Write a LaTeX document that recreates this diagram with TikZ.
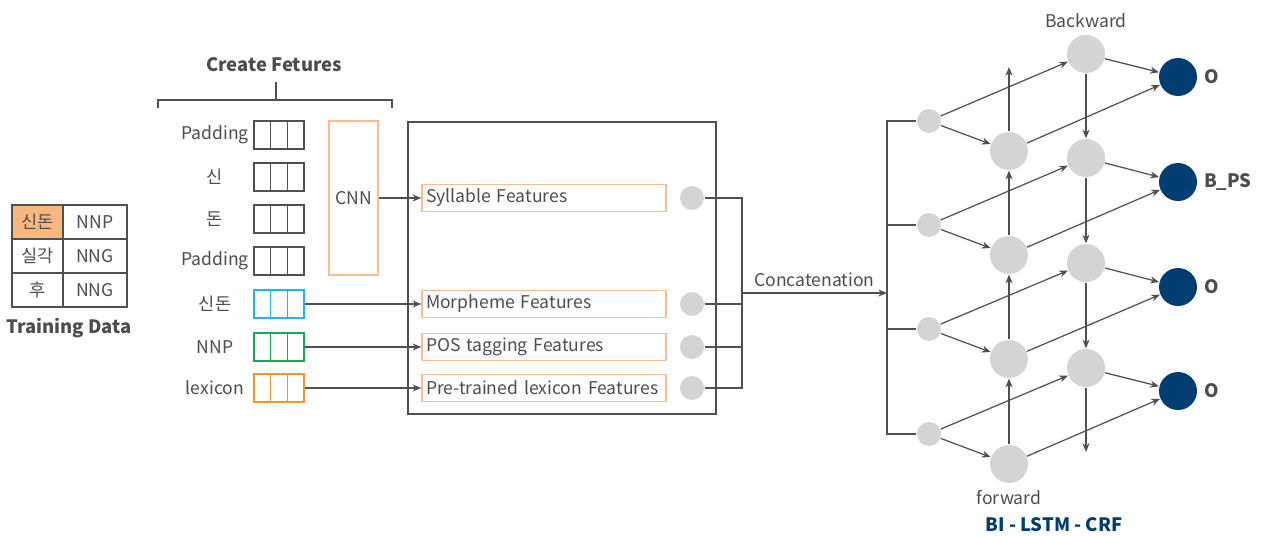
\documentclass[tikz,border=0pt]{standalone}
\usepackage{fontspec}
\setmainfont{Noto Sans CJK KR}
\usetikzlibrary{arrows.meta, positioning, calc}
\definecolor{textgray}{RGB}{77,77,77}
\definecolor{linegray}{RGB}{80,80,80}
\definecolor{dotgray}{RGB}{211,212,214}
\definecolor{featorange}{RGB}{249,190,140}
\definecolor{cellorange}{RGB}{247,183,127}
\definecolor{cellblue}{RGB}{30,180,240}
\definecolor{cellgreen}{RGB}{20,170,80}
\definecolor{lexorange}{RGB}{247,150,40}
\definecolor{crfblue}{RGB}{0,61,112}
\tikzset{
  boldlbl/.style={font=\fontsize{10.5}{13}\selectfont\bfseries},
  cellbox/.style={draw=#1, line width=0.8pt, minimum width=1cm, minimum height=0.56cm, inner sep=0pt,
    path picture={\draw[#1, line width=0.8pt]
      ([xshift=-0.1667cm]path picture bounding box.north) -- ([xshift=-0.1667cm]path picture bounding box.south)
      ([xshift=0.1667cm]path picture bounding box.north) -- ([xshift=0.1667cm]path picture bounding box.south);}},
  featbox/.style={draw=featorange, line width=0.8pt, text width=4.72cm, inner xsep=0.08cm, inner ysep=0pt, minimum height=0.54cm, align=left},
  tcell/.style={draw=linegray, line width=0.8pt, minimum height=0.68cm, inner sep=0pt},
  dot/.style={circle, fill=dotgray, minimum size=0.48cm, inner sep=0pt},
  unit/.style={circle, fill=dotgray, minimum size=0.76cm, inner sep=0pt},
  tag/.style={circle, fill=crfblue, minimum size=0.76cm, inner sep=0pt}
}

\begin{document}
\begin{tikzpicture}[x=0.02cm, y=-0.02cm, >={Stealth[length=5pt,width=4pt]},
    font=\fontsize{10}{12}\selectfont, line width=0.7pt, color=linegray, text=textgray]
    \useasboundingbox (0,0) rectangle (1262,535);

    % Training data
    \node[tcell, fill=cellorange, minimum width=1.02cm] (t11) at (37.5,222) {신돈};
    \node[tcell, minimum width=1.28cm] (t12) at (95,222) {NNP};
    \node[tcell, minimum width=1.02cm] (t21) at (37.5,256) {실각};
    \node[tcell, minimum width=1.28cm] (t22) at (95,256) {NNG};
    \node[tcell, minimum width=1.02cm] (t31) at (37.5,290) {후};
    \node[tcell, minimum width=1.28cm] (t32) at (95,290) {NNG};
    \node[boldlbl] (train) at (69,328) {Training Data};

    % Create features
    \node[boldlbl] (create) at (274,65) {Create Fetures};
    \draw (158,108) -- (158,100) -- (392,100) -- (392,108);
    \draw (276,100) -- (276,82);

    \node[cellbox=linegray] (pad1) at (279,135) {};
    \node[cellbox=linegray] (sin) at (279,177) {};
    \node[cellbox=linegray] (don) at (279,219) {};
    \node[cellbox=linegray] (pad2) at (279,261) {};
    \node[cellbox=cellblue] (sindon) at (279,304) {};
    \node[cellbox=cellgreen] (nnp) at (279,347) {};
    \node[cellbox=lexorange] (lex) at (279,388) {};
    \node at (215,135) {Padding};
    \node at (215,177) {신};
    \node at (215,219) {돈};
    \node at (215,261) {Padding};
    \node at (215,304) {신돈};
    \node at (215,347) {NNP};
    \node at (215,388) {lexicon};

    \node[draw=featorange, line width=0.8pt, minimum width=0.98cm, minimum height=3.08cm] (cnn) at (353.5,198) {CNN};

    % Feature block
    \node[draw=linegray, line width=0.8pt, minimum width=6.16cm, minimum height=5.84cm] (block) at (562,268) {};
    \node[featbox] (syl) at (544,198) {Syllable Features};
    \node[featbox] (morph) at (544,304) {Morpheme Features};
    \node[featbox] (pos) at (544,347) {POS tagging Features};
    \node[featbox] (pre) at (544,388) {Pre-trained lexicon Features};
    \node[dot] (c1) at (692,198) {};
    \node[dot] (c2) at (692,304) {};
    \node[dot] (c3) at (692,347) {};
    \node[dot] (c4) at (692,388) {};

    \draw[->] (cnn.east) -- (syl.west);
    \draw[->] (sindon.east) -- (morph.west);
    \draw[->] (nnp.east) -- (pos.west);
    \draw[->] (lex.east) -- (pre.west);

    % Concatenation
    \coordinate (cat) at (742,293);
    \coordinate (busbot) at (887,434);
    \draw (c1.east) -| (cat);
    \draw (c4.east) -| (cat);
    \draw (c2.east) -- (c2.east -| cat);
    \draw (c3.east) -- (c3.east -| cat);
    \draw[->] (cat) -- (cat -| busbot) node[midway, above] {Concatenation};

    % BI-LSTM-CRF
    \node[dot] (in1) at (929,121) {};
    \node[dot] (in2) at (929,225) {};
    \node[dot] (in3) at (929,329) {};
    \node[dot] (in4) at (929,434) {};
    \node[unit] (fw1) at (1009,151) {};
    \node[unit] (fw2) at (1009,255) {};
    \node[unit] (fw3) at (1009,359) {};
    \node[unit] (fw4) at (1009,464) {};
    \node[unit] (bw1) at (1086,54) {};
    \node[unit] (bw2) at (1086,158) {};
    \node[unit] (bw3) at (1086,263) {};
    \node[unit] (bw4) at (1086,368) {};
    \node[tag] (out1) at (1178,77) {};
    \node[tag] (out2) at (1178,182) {};
    \node[tag] (out3) at (1178,287) {};
    \node[tag] (out4) at (1178,391) {};
    \node[boldlbl, right=0pt of out1] {O};
    \node[boldlbl, right=0pt of out2] {B\_PS};
    \node[boldlbl, right=0pt of out3] {O};
    \node[boldlbl, right=0pt of out4] {O};
    \coordinate (fwend) at (1009,67);
    \coordinate (bwend) at (1086,452);

    \draw (in1.west) -| (busbot) -- (in4.west);
    \draw (in2.west) -- (in2.west -| busbot);
    \draw (in3.west) -- (in3.west -| busbot);

    \draw[->] (in1) -- (fw1);
    \draw[->] (in2) -- (fw2);
    \draw[->] (in3) -- (fw3);
    \draw[->] (in4) -- (fw4);
    \draw[->] (in1) -- (bw1);
    \draw[->] (in2) -- (bw2);
    \draw[->] (in3) -- (bw3);
    \draw[->] (in4) -- (bw4);
    \draw[->] (fw1) -- (out1);
    \draw[->] (fw2) -- (out2);
    \draw[->] (fw3) -- (out3);
    \draw[->] (fw4) -- (out4);
    \draw[->] (bw1) -- (out1);
    \draw[->] (bw2) -- (out2);
    \draw[->] (bw3) -- (out3);
    \draw[->] (bw4) -- (out4);

    \draw[->] (fw4) -- (fw3);
    \draw[->] (fw3) -- (fw2);
    \draw[->] (fw2) -- (fw1);
    \draw[->] (fw1) -- (fwend);
    \draw[->] (bw1) -- (bw2);
    \draw[->] (bw2) -- (bw3);
    \draw[->] (bw3) -- (bw4);
    \draw[->] (bw4) -- (bwend);

    \node[above=0pt of bw1] (back) {Backward};
    \node[below=0pt of fw4] (fwd) {forward};
    \node[boldlbl, text=crfblue] (crf) at (1054,525) {BI - LSTM - CRF};
\end{tikzpicture}
\end{document}
